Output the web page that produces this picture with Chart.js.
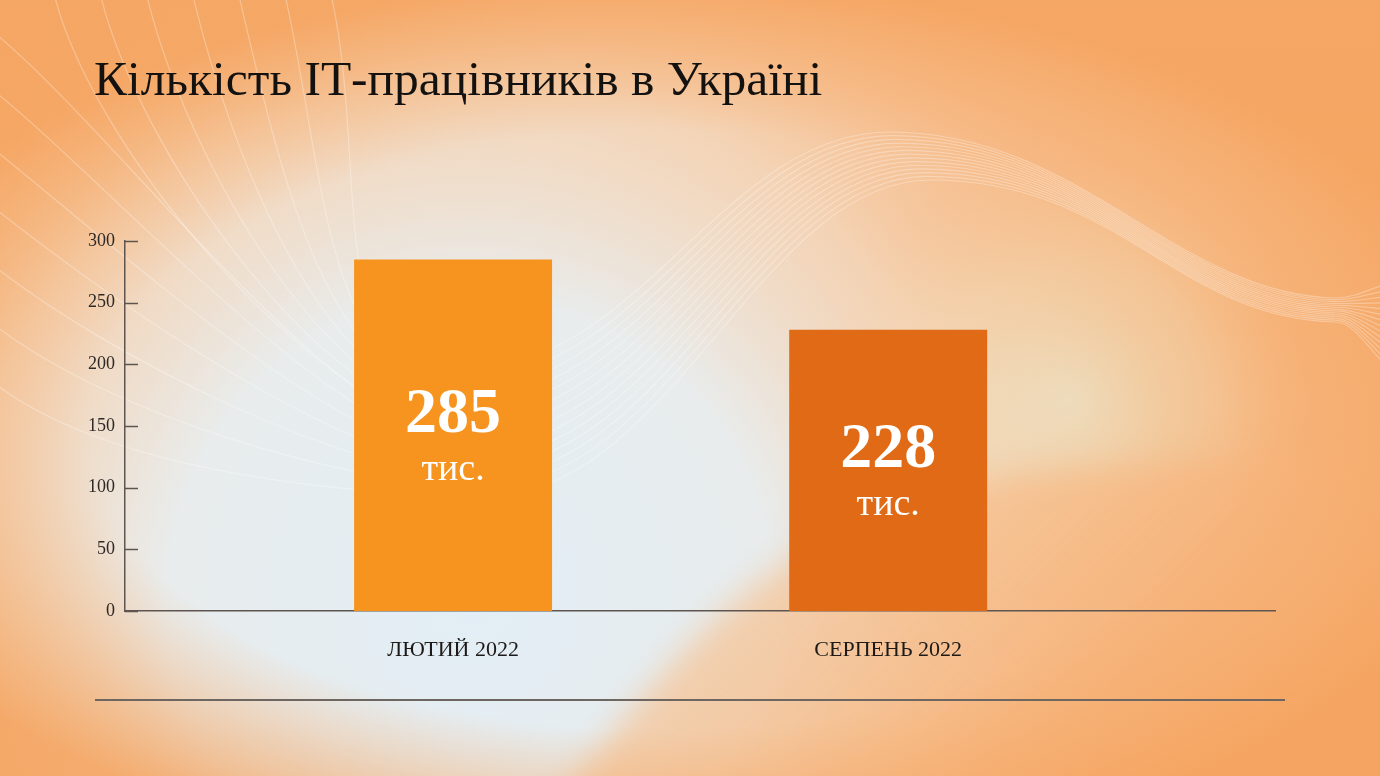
<!DOCTYPE html>
<html lang="uk">
<head>
<meta charset="utf-8">
<title>Кількість IT-працівників в Україні</title>
<script src="https://cdn.jsdelivr.net/npm/chart.js@4.4.1/dist/chart.umd.min.js"></script>
<style>
  html, body { margin: 0; padding: 0; width: 1380px; height: 776px; overflow: hidden; background: #f7b87f; }
  #wrap { position: relative; width: 1380px; height: 776px; }
  #chart { position: absolute; left: 0; top: 0; width: 1380px; height: 776px; }
  #title { position: absolute; left: 94px; top: 54px; z-index: 2; font-family: "Liberation Serif", "DejaVu Serif", serif;
           font-size: 49.5px; line-height: 50px; color: #141210; white-space: nowrap; }
  #rule { position: absolute; left: 95px; top: 699px; width: 1190px; height: 1.5px; background: #6e6660; z-index: 2; }
</style>
</head>
<body>
<div id="wrap">
  <canvas id="chart" width="1380" height="776"></canvas>
  <div id="title">Кількість ІТ-працівників в Україні</div>
  <div id="rule"></div>
</div>
<script>
// ---- data ----
const categories = ['ЛЮТИЙ 2022', 'СЕРПЕНЬ 2022'];
const values = [285, 228];
const unitLabel = 'тис.';
const yTicks = [0, 50, 100, 150, 200, 250, 300];
const barColors = ['#f7931f', '#e06a16'];

// ---- background (decorative) ----
function paintBackground(ctx, W, H) {
  ctx.save();
  ctx.fillStyle = '#f6b47c';
  ctx.fillRect(0, 0, W, H);

  // top peach tint
  let lg = ctx.createLinearGradient(0, 0, 0, 330);
  lg.addColorStop(0, 'rgba(247,194,150,0.9)');
  lg.addColorStop(1, 'rgba(247,200,160,0)');
  ctx.fillStyle = lg;
  ctx.fillRect(0, 0, W, 330);

  // light bluish centre
  let r = ctx.createRadialGradient(470, 600, 0, 470, 600, 720);
  r.addColorStop(0, 'rgba(226,238,246,1)');
  r.addColorStop(0.42, 'rgba(232,238,240,0.97)');
  r.addColorStop(0.72, 'rgba(242,228,212,0.6)');
  r.addColorStop(1, 'rgba(246,204,164,0)');
  ctx.fillStyle = r;
  ctx.fillRect(0, 0, W, H);

  // pale green-yellow glow on the right
  r = ctx.createRadialGradient(1070, 400, 0, 1070, 400, 240);
  r.addColorStop(0, 'rgba(232,240,220,0.6)');
  r.addColorStop(0.55, 'rgba(238,234,206,0.3)');
  r.addColorStop(1, 'rgba(246,214,170,0)');
  ctx.fillStyle = r;
  ctx.fillRect(0, 0, W, H);

  // orange hill bottom right
  ctx.save();
  ctx.filter = 'blur(16px)';
  ctx.beginPath();
  ctx.moveTo(545, 820);
  ctx.bezierCurveTo(700, 610, 820, 490, 1060, 470);
  ctx.lineTo(1420, 450);
  ctx.lineTo(1420, 820);
  ctx.closePath();
  lg = ctx.createLinearGradient(700, 470, 1000, 776);
  lg.addColorStop(0, 'rgba(246,200,156,0.6)');
  lg.addColorStop(1, 'rgba(246,180,124,0.9)');
  ctx.fillStyle = lg;
  ctx.fill();
  ctx.restore();

  // edge vignette (elliptic)
  ctx.save();
  ctx.translate(660, 430);
  ctx.scale(1.9, 1);
  r = ctx.createRadialGradient(0, 0, 300, 0, 0, 450);
  r.addColorStop(0, 'rgba(246,168,100,0)');
  r.addColorStop(1, 'rgba(245,162,92,0.85)');
  ctx.fillStyle = r;
  ctx.fillRect(-700, -700, 1400, 1400);
  ctx.restore();

  // white flowing lines
  ctx.lineWidth = 1.2;
  ctx.strokeStyle = 'rgba(255,255,255,0.3)';
  const n = 14;
  for (let k = 0; k < n; k++) {
    const t = k / (n - 1);
    const p0 = t < 0.5 ? [330 - 600 * t, -10] : [-10, (t - 0.5) * 2 * 380];
    const d0 = t < 0.5 ? [40, 170] : [120, 95];
    const p1 = [450 + 30 * t, 372 + 125 * t];
    const p2 = [890 + 40 * t, 132 + 48 * t];
    const p3 = [1335, 298 + 24 * t];
    const p4 = [1400, 282 + 90 * t];
    ctx.beginPath();
    ctx.moveTo(p0[0], p0[1]);
    ctx.bezierCurveTo(p0[0] + d0[0], p0[1] + d0[1], p1[0] - 130, p1[1] - 4, p1[0], p1[1]);
    ctx.bezierCurveTo(p1[0] + 190, p1[1] + 4, p2[0] - 170, p2[1], p2[0], p2[1]);
    ctx.bezierCurveTo(p2[0] + 190, p2[1], p3[0] - 160, p3[1] - 4, p3[0], p3[1]);
    ctx.bezierCurveTo(p3[0] + 25, p3[1], p4[0] - 20, p4[1], p4[0], p4[1]);
    ctx.stroke();
  }
  ctx.restore();
}

const bgPlugin = {
  id: 'bg',
  beforeDraw(chart) { paintBackground(chart.ctx, chart.width, chart.height); }
};

// inward tick marks on the y axis
const innerTicks = {
  id: 'innerTicks',
  afterDraw(chart) {
    const y = chart.scales.y, ctx = chart.ctx;
    ctx.save();
    ctx.strokeStyle = '#5f5550';
    ctx.lineWidth = 1.5;
    y.ticks.forEach(t => {
      const py = Math.round(y.getPixelForValue(t.value)) + 0.5;
      ctx.beginPath();
      ctx.moveTo(y.right, py);
      ctx.lineTo(y.right + 13, py);
      ctx.stroke();
    });
    ctx.restore();
  }
};

// value labels inside bars
const barLabels = {
  id: 'barLabels',
  afterDatasetsDraw(chart) {
    const ctx = chart.ctx;
    const meta = chart.getDatasetMeta(0);
    ctx.save();
    ctx.fillStyle = '#ffffff';
    ctx.textAlign = 'center';
    ctx.textBaseline = 'middle';
    meta.data.forEach((bar, i) => {
      const cy = (bar.y + bar.base) / 2;
      ctx.font = 'bold 64px "Liberation Serif", serif';
      ctx.fillText(String(values[i]), bar.x, cy - 20);
      ctx.font = '38px "Liberation Serif", serif';
      ctx.fillText(unitLabel, bar.x, cy + 35);
    });
    ctx.restore();
  }
};

new Chart(document.getElementById('chart'), {
  type: 'bar',
  data: {
    datasets: [{
      data: values.map((v, i) => ({ x: i, y: v })),
      backgroundColor: barColors,
      borderWidth: 0,
      barPercentage: 0.455,
      categoryPercentage: 1
    }]
  },
  options: {
    responsive: false,
    animation: false,
    devicePixelRatio: 1,
    layout: { padding: { top: 241, right: 105, bottom: 0, left: 65 } },
    plugins: { legend: { display: false }, tooltip: { enabled: false }, title: { display: false } },
    scales: {
      x: {
        type: 'linear',
        min: -0.754,
        max: 1.889,
        offset: false,
        grid: { display: false, drawTicks: false, offset: false },
        border: { display: true, color: '#5f5550', width: 1.5 },
        afterBuildTicks(scale) { scale.ticks = categories.map((c, i) => ({ value: i })); },
        afterFit(scale) { scale.height = 165; },
        ticks: {
          autoSkip: false,
          maxRotation: 0,
          padding: 26,
          color: '#1e1a18',
          font: { family: '"Liberation Serif", serif', size: 22 },
          callback: (v) => categories[v] ?? ''
        }
      },
      y: {
        min: 0,
        max: 300,
        afterBuildTicks(scale) { scale.ticks = yTicks.map(v => ({ value: v })); },
        afterFit(scale) { scale.width = 60; },
        grid: { display: false, drawTicks: false },
        border: { display: true, color: '#5f5550', width: 1.5 },
        ticks: {
          padding: 10,
          color: '#2e2826',
          font: { family: '"Liberation Serif", serif', size: 18 }
        }
      }
    }
  },
  plugins: [bgPlugin, innerTicks, barLabels]
});
</script>
</body>
</html>
